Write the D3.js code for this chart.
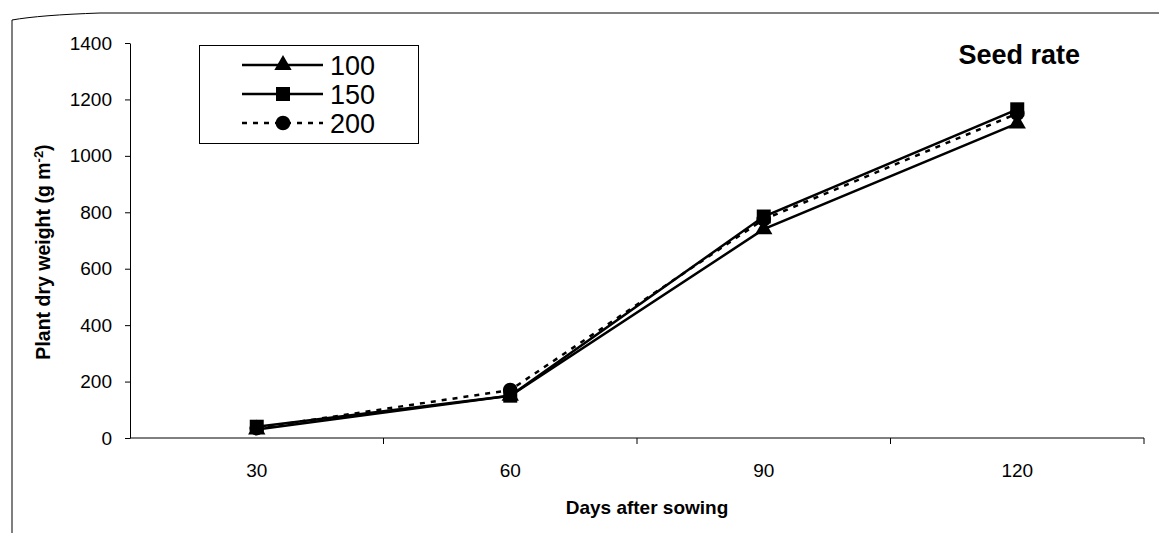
<!DOCTYPE html>
<html>
<head>
<meta charset="utf-8">
<script src="https://cdn.jsdelivr.net/npm/d3@7/dist/d3.min.js"></script>
<style>
  html, body { margin: 0; padding: 0; background: #fff; }
  svg { display: block; font-family: Arial, "Liberation Sans", sans-serif; }
</style>
</head>
<body>
<svg id="chart" width="1159" height="533"></svg>
<script>
// Plant dry weight by days after sowing, for three seed rates
const days = ["30", "60", "90", "120"];
const rate100 = [30, 150, 740, 1115];
const rate150 = [40, 150, 785, 1165];
const rate200 = [35, 170, 775, 1150];
const seriesNames = ["100", "150", "200"];
const yTicks = [0, 200, 400, 600, 800, 1000, 1200, 1400];

const series = [
  { name: seriesNames[0], values: rate100, symbol: d3.symbolTriangle, size: 130, dash: null },
  { name: seriesNames[1], values: rate150, symbol: d3.symbolSquare, size: 196, dash: null },
  { name: seriesNames[2], values: rate200, symbol: d3.symbolCircle, size: 170, dash: "5,6" }
];

const svg = d3.select("#chart");
const plot = { left: 130, right: 1144, top: 43, bottom: 438 };

const x = d3.scaleBand().domain(days).range([plot.left, plot.right]);
const y = d3.scaleLinear().domain([0, 1400]).range([plot.bottom, plot.top]);

// page frame
svg.append("path")
  .attr("d", "M12,533 L12,20 Q40,15 100,13 L1159,13")
  .attr("fill", "none").attr("stroke", "#000").attr("stroke-width", 1);

// y axis
const yAxis = svg.append("g")
  .attr("transform", `translate(${plot.left},0)`)
  .call(d3.axisLeft(y).tickValues(yTicks).tickSize(5).tickSizeOuter(0).tickFormat(d3.format("d")));
yAxis.select(".domain").attr("stroke", "#000");
yAxis.selectAll("text").attr("font-size", 19).attr("fill", "#000").attr("dx", -10);

// x axis with ticks on category boundaries
const xAxisG = svg.append("g").attr("transform", `translate(0,${plot.bottom})`);
xAxisG.append("line")
  .attr("x1", plot.left).attr("x2", plot.right)
  .attr("stroke", "#000");
const bounds = days.map(d => x(d)).concat([plot.right]);
xAxisG.selectAll(".tick")
  .data(bounds.slice(1))
  .join("line")
  .attr("x1", d => d).attr("x2", d => d)
  .attr("y1", 0).attr("y2", 6).attr("stroke", "#000");
xAxisG.selectAll(".lbl")
  .data(days)
  .join("text")
  .attr("x", d => x(d) + x.bandwidth() / 2)
  .attr("y", 39)
  .attr("text-anchor", "middle")
  .attr("font-size", 19)
  .text(d => d);

// axis titles
svg.append("text")
  .attr("x", 647).attr("y", 514)
  .attr("text-anchor", "middle")
  .attr("font-size", 19).attr("font-weight", "bold")
  .text("Days after sowing");

const yt = svg.append("text")
  .attr("transform", `translate(50,252) rotate(-90)`)
  .attr("text-anchor", "middle")
  .attr("font-size", 19.5).attr("font-weight", "bold");
yt.append("tspan").text("Plant dry weight (g m");
yt.append("tspan").attr("dy", -7).attr("font-size", 13).text("-2");
yt.append("tspan").attr("dy", 7).text(")");

// lines and markers
const line = d3.line()
  .x((d, i) => x(days[i]) + x.bandwidth() / 2)
  .y(d => y(d));

series.forEach(s => {
  svg.append("path")
    .datum(s.values)
    .attr("d", line)
    .attr("fill", "none")
    .attr("stroke", "#000")
    .attr("stroke-width", 2.5)
    .attr("stroke-dasharray", s.dash);
});
series.forEach(s => {
  svg.selectAll(null)
    .data(s.values)
    .join("path")
    .attr("transform", (d, i) => `translate(${x(days[i]) + x.bandwidth() / 2},${y(d)})`)
    .attr("d", d3.symbol(s.symbol, s.size))
    .attr("fill", "#000");
});

// legend
const legend = svg.append("g");
legend.append("rect")
  .attr("x", 199.5).attr("y", 45.5).attr("width", 219).attr("height", 98)
  .attr("fill", "#fff").attr("stroke", "#000").attr("stroke-width", 1);
series.forEach((s, i) => {
  const cy = 65 + i * 29;
  legend.append("line")
    .attr("x1", 242).attr("x2", 323).attr("y1", cy).attr("y2", cy)
    .attr("stroke", "#000").attr("stroke-width", 2.5)
    .attr("stroke-dasharray", s.dash);
  legend.append("path")
    .attr("transform", `translate(283,${cy})`)
    .attr("d", d3.symbol(s.symbol, s.size))
    .attr("fill", "#000");
  legend.append("text")
    .attr("x", 330).attr("y", cy + 10)
    .attr("font-size", 27)
    .text(s.name);
});

// panel label
svg.append("text")
  .attr("x", 1080).attr("y", 64)
  .attr("text-anchor", "end")
  .attr("font-size", 27).attr("font-weight", "bold")
  .text("Seed rate");
</script>
</body>
</html>
